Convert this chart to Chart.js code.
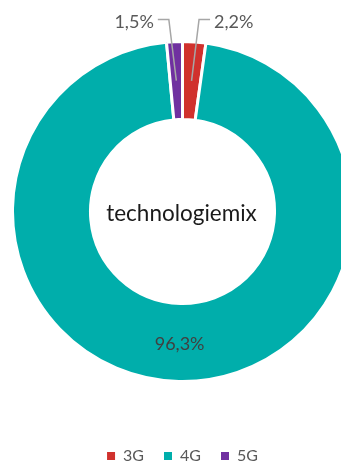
<!DOCTYPE html>
<html>
<head>
<meta charset="utf-8">
<script src="https://cdn.jsdelivr.net/npm/chart.js@4/dist/chart.umd.min.js"></script>
<style>
  html, body { margin: 0; padding: 0; background: #fff; overflow: hidden; width: 341px; height: 466px; }
  #wrap { position: absolute; left: 0; top: -5px; width: 341px; height: 479px; }
</style>
</head>
<body>
<div id="wrap"><canvas id="mixChart"></canvas></div>
<script>
const technologies = ["3G", "4G", "5G"];
const shares = [2.2, 96.3, 1.5];
const centerTitle = "technologiemix";
const sliceColors = ["#d0312d", "#00aeab", "#7030a0"];

const fmtPct = (v) => v.toFixed(1).replace(".", ",") + "%";

// title in the hole
const centerText = {
  id: "centerText",
  afterDatasetsDraw(chart) {
    const arc = chart.getDatasetMeta(0).data[0];
    if (!arc) return;
    const ctx = chart.ctx;
    ctx.save();
    ctx.font = "22.5px Lato";
    ctx.fillStyle = "#1a1a1a";
    ctx.textAlign = "center";
    ctx.textBaseline = "middle";
    ctx.fillText(centerTitle, arc.x - 1, arc.y + 2);
    ctx.restore();
  }
};

// percentage labels, small slices get a leader line above the ring
const sliceLabels = {
  id: "sliceLabels",
  afterDatasetsDraw(chart) {
    const ctx = chart.ctx;
    const meta = chart.getDatasetMeta(0);
    ctx.save();
    ctx.font = "18px Lato";
    ctx.textBaseline = "middle";
    meta.data.forEach((arc, i) => {
      const pos = arc.tooltipPosition();
      const text = fmtPct(shares[i]);
      if (shares[i] > 10) {
        ctx.fillStyle = "#404040";
        ctx.textAlign = "center";
        ctx.fillText(text, pos.x, pos.y + 2);
        return;
      }
      const dir = pos.x >= arc.x ? 1 : -1;
      const elbowY = arc.y - arc.outerRadius - 22;
      const elbowX = pos.x + dir * 7.5;
      const endX = elbowX + dir * 11;
      ctx.strokeStyle = "#a6a6a6";
      ctx.lineWidth = 1.5;
      ctx.beginPath();
      ctx.moveTo(pos.x, pos.y);
      ctx.lineTo(elbowX, elbowY);
      ctx.lineTo(endX, elbowY);
      ctx.stroke();
      ctx.fillStyle = "#595959";
      ctx.textAlign = dir > 0 ? "left" : "right";
      ctx.fillText(text, endX + dir * 4, elbowY + 3);
    });
    ctx.restore();
  }
};

const ctx = document.getElementById("mixChart").getContext("2d");

new Chart(ctx, {
  type: "doughnut",
  data: {
    labels: technologies,
    datasets: [
      {
        data: shares,
        backgroundColor: sliceColors,
        borderColor: "#ffffff",
        borderWidth: 3
      }
    ]
  },
  options: {
    responsive: true,
    maintainAspectRatio: false,
    animation: false,
    radius: 170,
    cutout: 85,
    layout: { padding: { left: 24, right: 0, top: 0, bottom: 0 } },
    plugins: {
      legend: {
        position: "bottom",
        labels: {
          boxWidth: 8,
          boxHeight: 8,
          padding: 20,
          color: "#595959",
          font: { family: "Lato", size: 16 },
          generateLabels(chart) {
            const items = Chart.overrides.doughnut.plugins.legend.labels.generateLabels(chart);
            items.forEach((it) => {
              it.lineWidth = 0;
              it.strokeStyle = it.fillStyle;
            });
            return items;
          }
        }
      },
      tooltip: { enabled: false }
    }
  },
  plugins: [centerText, sliceLabels]
});
</script>
</body>
</html>
